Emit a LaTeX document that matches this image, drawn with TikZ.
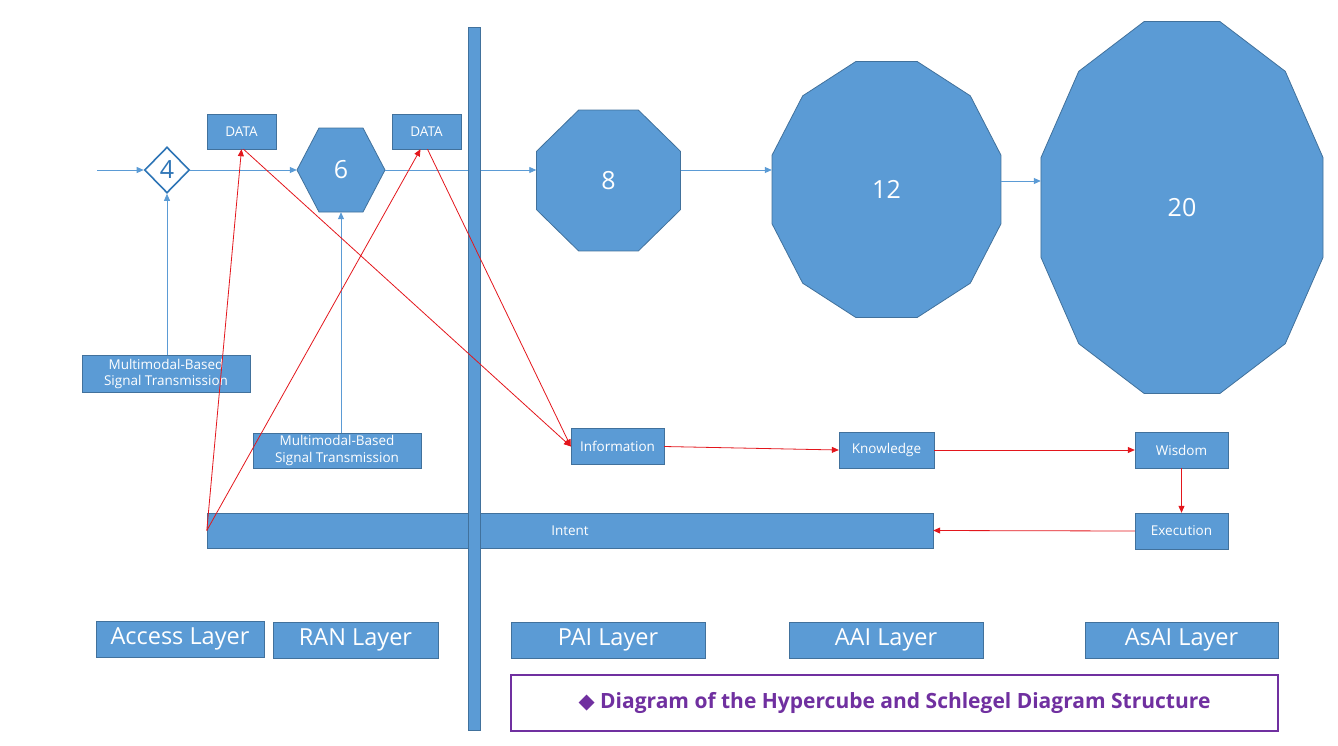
\documentclass[tikz,border=0pt]{standalone}
\usepackage{fontspec}
\setmainfont{Open Sans}
\newfontfamily\symfont{DejaVu Sans}
\usetikzlibrary{arrows.meta,positioning,shapes.geometric}
\definecolor{boxblue}{HTML}{5B9BD5}
\definecolor{edgeblue}{HTML}{41719C}
\definecolor{lineblue}{HTML}{5B9BD5}
\definecolor{dkblue}{HTML}{2E75B6}
\definecolor{redline}{HTML}{E3161C}
\definecolor{titlepurple}{HTML}{7030A0}

\begin{document}
\begin{tikzpicture}[x=1pt,y=-1pt,
  box/.style={draw=edgeblue,fill=boxblue,text=white,inner sep=0pt,align=center,
    font=\fontsize{13.5}{16.5}\selectfont},
  layer/.style={box,minimum height=36pt,font=\fontsize{23.5}{24}\selectfont},
  num/.style={text=white,inner sep=0pt,font=\fontsize{25}{25}\selectfont},
  poly/.style={draw=edgeblue,fill=boxblue,line width=0.8pt},
  bto/.style={draw=lineblue,line width=0.8pt,-{Triangle[length=7pt,width=6pt]}},
  rto/.style={draw=redline,line width=0.8pt,-{Triangle[length=7pt,width=6pt]}}]

  \useasboundingbox (0,0) rectangle (1338,745);

  % polygons (hexagon, octagon, two dodecagons)
  \draw[poly] plot[samples at={0,60,...,300}] ({341+44*cos(\x)},{170+48.5*sin(\x)}) -- cycle;
  \draw[poly] plot[samples at={22.5,67.5,...,337.5}] ({608.5+77.9*cos(\x)},{180.5+76.3*sin(\x)}) -- cycle;
  \draw[poly] plot[samples at={15,45,...,345}] ({886.5+118.5*cos(\x)},{189.5+132.5*sin(\x)}) -- cycle;
  \draw[poly] plot[samples at={15,45,...,345}] ({1182+146*cos(\x)},{207.5+192.6*sin(\x)}) -- cycle;

  \node[num,minimum width=88pt,minimum height=84pt] (hex) at (341,170) {6};
  \node[num,minimum width=144pt,minimum height=141pt] (oct) at (608.5,180.5) {8};
  \node[num,minimum width=229pt,minimum height=256pt] (p12) at (886.5,189.5) {12};
  \node[num,minimum width=282pt,minimum height=372pt] (p20) at (1182,207.5) {20};

  \node[diamond,draw=dkblue,line width=1.6pt,fill=white,text=dkblue,inner sep=0pt,
    minimum width=45pt,minimum height=46pt,font=\fontsize{25}{25}\selectfont] (dia) at (167,170) {4};

  \node[box,minimum width=69pt,minimum height=35pt] (data1) at (241.5,131.5) {DATA};
  \node[box,minimum width=69pt,minimum height=35pt] (data2) at (426.5,131.5) {DATA};

  \node[box,minimum width=168pt,minimum height=37pt] (mb1) at (166,374) {Multimodal-Based\\Signal Transmission};
  \node[box,minimum width=168pt,minimum height=35pt] (mb2) at (337,450.5) {Multimodal-Based\\Signal Transmission};

  \node[box,minimum width=93pt,minimum height=36pt] (info) at (617.5,446.5) {Information};
  \node[box,minimum width=95pt,minimum height=36pt] (know) at (886.5,450) {Knowledge};
  \node[box,minimum width=93pt,minimum height=36pt] (wis) at (1181.5,450) {Wisdom};
  \node[box,minimum width=93pt,minimum height=36pt] (exe) at (1181.5,531) {Execution};
  \node[box,minimum width=726pt,minimum height=35pt] (intent) at (570,530.5) {Intent};

  % blue flow line
  \coordinate (start) at (97,170);
  \coordinate (l4) at ([yshift=8.5pt]p12.east);
  \draw[bto] (start) -- (dia.west);
  \draw[bto] (dia.east) -- (hex.west);
  \draw[bto] (hex.east) -- (hex.east -| oct.west);
  \draw[bto] (oct.east |- hex.east) -- (hex.east -| p12.west);
  \draw[bto] (l4) -- (l4 -| p20.west);
  \draw[bto] (mb1.north -| dia.south) -- (dia.south);
  \draw[bto] (mb2.north -| hex.south) -- (hex.south);

  % divider
  \node[draw=edgeblue,fill=boxblue,inner sep=0pt,minimum width=12pt,minimum height=703pt] (vbar) at (474,378.5) {};

  % red feedback arrows
  \draw[rto] (intent.west) -- (data1.south);
  \draw[rto] (intent.west) -- ([xshift=-6pt]data2.south);
  \draw[rto] ([xshift=2pt]data1.south) -- (info.west);
  \draw[rto] ([xshift=1pt]data2.south) -- (info.west);
  \draw[rto] (info.east) -- (know.west);
  \draw[rto] (know.east) -- (wis.west);
  \draw[rto] (wis.south) -- (exe.north);
  \draw[rto] (exe.west) -- (intent.east);

  % layers
  \node[layer,minimum width=168pt] (acc) at (180,639) {Access Layer};
  \node[layer,minimum width=165pt] (ran) at (355.5,640) {RAN Layer};
  \node[layer,minimum width=194pt] (pai) at (608,640) {PAI Layer};
  \node[layer,minimum width=194pt] (aai) at (886,640) {AAI Layer};
  \node[layer,minimum width=193pt] (asai) at (1181.5,640) {AsAI Layer};

  \node[draw=titlepurple,line width=1.2pt,fill=white,text=titlepurple,minimum width=767pt,minimum height=56pt,
    font=\fontsize{21}{22}\selectfont\bfseries] (title) at (894.5,703) {{\symfont\fontsize{21}{21}\selectfont ◆} Diagram of the Hypercube and Schlegel Diagram Structure};
\end{tikzpicture}
\end{document}
